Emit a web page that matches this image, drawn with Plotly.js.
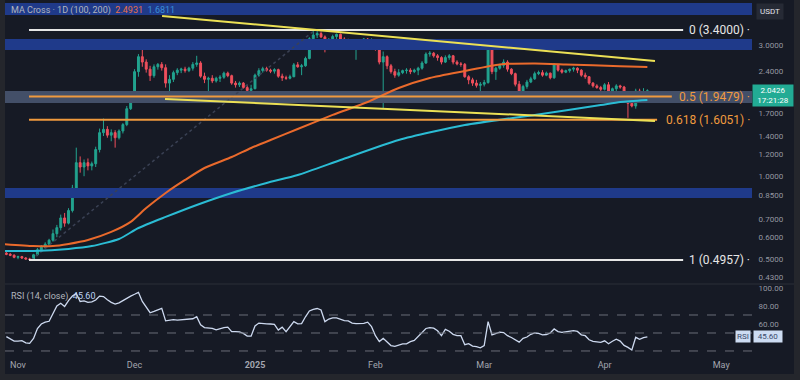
<!DOCTYPE html>
<html><head><meta charset="utf-8">
<script src="https://cdn.plot.ly/plotly-3.0.1.min.js"></script>
<style>html,body{margin:0;padding:0;background:#161a25;}#chart{width:800px;height:380px;}</style>
</head><body><div id="chart"></div>
<script>
// ---------- DATA ----------
const firstDay = '2024-10-29';
const opens = [
  .525,.520,.516,
  .507,.510,.504,.500,.498,.518,.540,.552,.566,.585,.618,.650,.705,.675,.750,.905,1.12,1.08,1.12,1.09,1.11,1.25,1.44,1.48,1.41,1.44,1.38,1.46,1.54,1.76,
  1.96,2.40,2.72,2.60,2.45,2.32,2.50,2.55,2.48,2.18,2.25,2.38,2.43,2.45,2.42,2.47,2.55,2.58,2.31,2.25,2.27,2.22,2.27,2.29,2.37,2.32,2.18,2.15,2.18,2.10,2.05,
  2.08,2.33,2.42,2.46,2.43,2.41,2.44,2.31,2.28,2.27,2.30,2.54,2.50,2.52,2.68,3.16,3.26,3.30,3.21,2.98,3.12,3.22,3.28,3.15,3.12,3.10,3.03,3.08,3.12,3.15,3.09,
  3.13,2.90,2.60,2.72,2.52,2.40,2.33,2.38,2.42,2.43,2.40,2.43,2.47,2.58,2.78,2.80,2.74,2.70,2.60,2.70,2.74,2.60,2.56,2.55,2.30,2.24,2.18,2.14,
  2.16,2.19,2.92,2.40,2.47,2.53,2.60,2.45,2.36,2.16,2.02,2.12,2.20,2.26,2.36,2.38,2.33,2.37,2.28,2.54,2.43,2.39,2.42,2.45,2.47,2.43,2.33,2.30,2.18,2.13,2.10,
  2.07,2.15,2.04,2.08,2.13,2.11,1.93,1.84,1.80,2.04,2.00,2.03];
const highs = [
  .530,.526,.520,
  .514,.513,.508,.505,.522,.548,.562,.575,.592,.640,.665,.725,.735,.765,.930,1.27,1.18,1.15,1.16,1.13,1.28,1.49,1.62,1.52,1.48,1.47,1.48,1.56,1.80,2.00,
  2.45,2.78,2.92,2.66,2.52,2.55,2.58,2.60,2.55,2.33,2.42,2.47,2.48,2.50,2.50,2.60,2.74,2.62,2.38,2.30,2.33,2.30,2.33,2.40,2.40,2.34,2.22,2.21,2.20,2.14,2.15,
  2.36,2.47,2.50,2.50,2.46,2.47,2.46,2.36,2.32,2.34,2.58,2.60,2.56,2.72,3.20,3.40,3.40,3.36,3.25,3.18,3.27,3.30,3.30,3.20,3.16,3.14,3.10,3.15,3.18,3.18,3.17,
  3.15,2.93,2.84,2.75,2.56,2.46,2.45,2.44,2.47,2.47,2.46,2.50,2.62,2.82,2.85,2.83,2.78,2.73,2.75,2.78,2.76,2.64,2.60,2.58,2.33,2.28,2.24,2.20,
  2.24,2.98,2.97,2.50,2.56,2.66,2.64,2.47,2.38,2.22,2.15,2.24,2.30,2.40,2.42,2.43,2.40,2.38,2.58,2.56,2.46,2.44,2.46,2.50,2.49,2.45,2.38,2.31,2.20,2.16,2.13,
  2.18,2.20,2.10,2.16,2.15,2.13,1.96,1.95,2.08,2.08,2.09,2.07];
const lows = [
  .516,.512,.503,
  .499,.500,.497,.4957,.497,.512,.532,.545,.560,.578,.600,.635,.655,.668,.738,.890,1.03,1.00,1.05,1.05,1.08,1.22,1.40,1.38,1.34,1.27,1.36,1.43,1.52,1.74,
  1.94,2.30,2.50,2.38,2.22,2.28,2.44,2.42,2.10,2.01,2.20,2.33,2.37,2.38,2.39,2.42,2.50,2.28,2.18,1.98,2.18,2.19,2.20,2.26,2.29,2.15,2.10,2.11,2.08,2.01,2.03,
  2.07,2.30,2.38,2.40,2.37,2.36,2.28,2.22,2.24,2.25,2.29,2.48,2.33,2.50,2.66,3.10,3.18,3.18,2.82,2.95,3.08,3.15,3.08,3.07,3.06,3.00,2.65,3.02,3.06,3.05,3.04,
  2.86,2.55,1.77,2.45,2.36,2.28,2.30,2.35,2.36,2.35,2.37,2.33,2.44,2.56,2.72,2.70,2.63,2.55,2.58,2.65,2.55,2.53,2.50,2.28,2.16,2.13,2.10,1.98,
  2.12,2.17,2.35,2.24,2.44,2.48,2.40,2.33,2.12,1.98,1.98,2.08,2.18,2.24,2.33,2.30,2.31,2.25,2.26,2.40,2.36,2.37,2.38,2.40,2.37,2.30,2.26,2.15,2.10,2.08,2.04,
  2.05,2.00,2.00,2.04,2.08,1.90,1.63,1.78,1.76,1.95,1.98,2.01];
const closes = [
  .520,.516,.507,
  .510,.504,.500,.498,.518,.540,.552,.566,.585,.618,.650,.705,.675,.750,.905,1.12,1.08,1.12,1.09,1.11,1.25,1.44,1.48,1.41,1.44,1.38,1.46,1.54,1.76,1.96,
  2.40,2.72,2.60,2.45,2.32,2.50,2.55,2.48,2.18,2.25,2.38,2.43,2.45,2.42,2.47,2.55,2.58,2.31,2.25,2.27,2.22,2.27,2.29,2.37,2.32,2.18,2.15,2.18,2.10,2.05,2.08,
  2.33,2.42,2.46,2.43,2.41,2.44,2.31,2.28,2.27,2.30,2.54,2.50,2.52,2.68,3.16,3.26,3.30,3.21,2.98,3.12,3.22,3.28,3.15,3.12,3.10,3.03,3.08,3.12,3.15,3.09,3.13,
  2.90,2.60,2.72,2.52,2.40,2.33,2.38,2.42,2.43,2.40,2.43,2.47,2.58,2.78,2.80,2.74,2.70,2.60,2.70,2.74,2.60,2.56,2.55,2.30,2.24,2.18,2.14,2.16,
  2.19,2.92,2.40,2.47,2.53,2.60,2.45,2.36,2.16,2.02,2.12,2.20,2.26,2.36,2.38,2.33,2.37,2.28,2.54,2.43,2.39,2.42,2.45,2.47,2.43,2.33,2.30,2.18,2.13,2.10,2.07,
  2.15,2.04,2.08,2.13,2.11,1.93,1.84,1.80,2.04,2.00,2.03,2.0426];
const rsiValues = [
  46,43,41,
  41,41.5,39,38.5,44,55,60,62,63,71,80,83,79.5,86,91,94,85,85.6,84,84.5,86.7,91,90.5,87,84,82.2,83.5,86,89,91,
  93,95.2,85,78,72.5,74,76,77.4,63.5,64.5,64.8,64.4,64.8,64.4,65,65.8,68.1,59,56,55.2,55.2,53.5,54.8,56,56.5,51.5,51.5,51.3,49.6,46.5,46.5,
  57.8,61,61,60.2,60,59.6,53.3,56.5,51.5,57,62.6,60.2,60.5,68,74.5,76.3,77.2,75.6,62.6,65.5,66.8,66.8,65.2,63.8,63.4,61,60.5,60.7,60.7,62,57,
  47,40.5,44,39.5,36,35.2,36.5,38,38,40.4,41.8,46,50,55,56,55.4,52.5,47,54,52,48.5,47,47,37,38.2,35.5,34.8,33.5,
  36,62.6,48,49.4,51,50.5,47,45,42.2,39.8,44,45.5,48.5,50,49.5,48,48.3,50,54.5,51.5,50.8,51.5,52.3,52.6,51.7,48,47,42.5,40.6,40.2,39.5,
  41.3,38,40.8,43,41,36.2,34,31.1,45.2,43,44.8,45.6];

// Moving averages
const maFastDates = ['2024-10-28','2024-11-05','2024-11-10','2024-11-14','2024-11-19','2024-11-25','2024-11-30','2024-12-04','2024-12-09','2024-12-14','2024-12-19','2024-12-26','2024-12-31','2025-01-05','2025-01-12','2025-01-21','2025-01-30','2025-02-07','2025-02-15','2025-02-24','2025-03-05','2025-03-14','2025-03-22','2025-04-05','2025-04-12'];
const maFastValues = [0.567,0.557,0.557,0.567,0.586,0.627,0.682,0.766,0.869,0.969,1.071,1.174,1.266,1.354,1.484,1.67,1.862,2.093,2.276,2.413,2.55,2.57,2.55,2.51,2.4931];
const maSlowDates = ['2024-10-28','2024-11-05','2024-11-14','2024-11-20','2024-11-27','2024-12-02','2024-12-09','2024-12-17','2024-12-26','2025-01-04','2025-01-12','2025-01-23','2025-02-07','2025-02-24','2025-03-14','2025-03-31','2025-04-05','2025-04-12'];
const maSlowValues = [0.535,0.535,0.544,0.557,0.591,0.648,0.711,0.786,0.869,0.945,1.010,1.145,1.354,1.535,1.67,1.815,1.862,1.893];
const maLegend = ['2.4931','1.6811'];

// Fibonacci retracement
const fibRatios = ['0','0.5','0.618','1'];
const fibPrices = [3.4, 1.9479, 1.6051, 0.4957];
const fibStart = '2024-11-03 20:00';
const fibEnds = ['2025-04-21 05:00','2025-04-18 07:00','2025-04-14 12:00','2025-04-21 05:00'];
const fibColors = ['#e6e6e6','#f09a3e','#f09a3e','#e6e6e6'];
const fibTrend = {dates:['2024-11-04 08:00','2025-01-16 10:00'], prices:[0.4957, 3.40]};

// Trendlines
const upperTrend = {dates:['2024-12-08 02:00','2025-04-13 23:00'], prices:[3.825, 2.624]};
const lowerTrend = {dates:['2024-12-08 20:00','2025-04-13 23:00'], prices:[1.909, 1.588]};

// Zones (price ranges)
const blueZones = [[3.86, 4.26],[2.877, 3.155],[0.833, 0.906]];
const grayZone = [1.846, 2.04];

// Axes
const xRange = ['2024-10-28 15:40','2025-05-08 22:20'];
const monthTicks = ['2024-11-01','2024-12-01','2025-01-01','2025-02-01','2025-03-01','2025-04-01','2025-05-01'];
const monthLabels = ['Nov','Dec','<b>2025</b>','Feb','Mar','Apr','May'];
const priceTicks = [3.0, 2.4, 1.7, 1.4, 1.2, 1.0, 0.85, 0.7, 0.6, 0.5, 0.43];
const rsiTicks = [100, 80, 60];
const rsiLevels = [70, 50, 30];
const lastTime = '17:21:28';

// ---------- BUILD ----------
const dates = opens.map((_, i) => {
  const d = new Date(Date.parse(firstDay + 'T00:00:00Z') + i * 86400000);
  return d.toISOString().slice(0, 10);
});
const lastClose = closes[closes.length - 1];
const lastRsi = rsiValues[rsiValues.length - 1];

const traces = [];
blueZones.forEach(z => traces.push({
  type:'scatter', mode:'lines', x:[xRange[0],xRange[1],xRange[1],xRange[0],xRange[0]],
  y:[z[0],z[0],z[1],z[1],z[0]], fill:'toself', fillcolor:'#1f3a8a', line:{width:0},
  hoverinfo:'skip', xaxis:'x', yaxis:'y'
}));
traces.push({
  type:'scatter', mode:'lines', x:[xRange[0],xRange[1],xRange[1],xRange[0],xRange[0]],
  y:[grayZone[0],grayZone[0],grayZone[1],grayZone[1],grayZone[0]], fill:'toself', fillcolor:'#434f68', line:{width:0},
  hoverinfo:'skip', xaxis:'x', yaxis:'y'
});
traces.push({type:'scatter', mode:'lines', x:fibTrend.dates, y:fibTrend.prices,
  line:{color:'#3a4154', width:1.5, dash:'dot'}, xaxis:'x', yaxis:'y'});
traces.push({
  type:'candlestick', x:dates, open:opens, high:highs, low:lows, close:closes,
  increasing:{line:{color:'#22a38f', width:1}, fillcolor:'#22a38f'},
  decreasing:{line:{color:'#ef4f5c', width:1}, fillcolor:'#ef4f5c'},
  whiskerwidth:0, xaxis:'x', yaxis:'y'
});
traces.push({type:'scatter', mode:'lines', x:maFastDates, y:maFastValues,
  line:{color:'#ea6a2c', width:2, shape:'spline', smoothing:0.6}, xaxis:'x', yaxis:'y'});
traces.push({type:'scatter', mode:'lines', x:maSlowDates, y:maSlowValues,
  line:{color:'#2bbcd4', width:2, shape:'spline', smoothing:0.6}, xaxis:'x', yaxis:'y'});
fibPrices.forEach((p, i) => traces.push({type:'scatter', mode:'lines', x:[fibStart, fibEnds[i]], y:[p, p],
  line:{color:fibColors[i], width:2}, xaxis:'x', yaxis:'y'}));
[upperTrend, lowerTrend].forEach(t => traces.push({type:'scatter', mode:'lines', x:t.dates, y:t.prices,
  line:{color:'#ece055', width:2}, xaxis:'x', yaxis:'y'}));
traces.push({type:'scatter', mode:'lines', x:dates, y:rsiValues,
  line:{color:'#cdd9ef', width:1.3}, xaxis:'x', yaxis:'y2'});

const H = 358;
const pY = px => 1 - px / H;
const pX = px => (px - 5) / 747;

const shapes = [];
rsiLevels.forEach(v => shapes.push({type:'line', xref:'paper', yref:'y2', x0:0, x1:1, y0:v, y1:v,
  line:{color:'#6a6d78', width:1, dash:'dash'}}));
shapes.push({type:'line', xref:'paper', yref:'paper', x0:0, x1:pX(794), y0:pY(284), y1:pY(284), line:{color:'#2a2e39', width:1}});
shapes.push({type:'rect', xref:'paper', yref:'paper', x0:pX(0), x1:pX(5), y0:pY(380), y1:pY(0), fillcolor:'#24262c', line:{width:0}});
shapes.push({type:'rect', xref:'paper', yref:'paper', x0:pX(794), x1:pX(800), y0:pY(380), y1:pY(0), fillcolor:'#24262c', line:{width:0}});
shapes.push({type:'rect', xref:'paper', yref:'paper', x0:pX(0), x1:pX(800), y0:pY(380), y1:pY(374), fillcolor:'#24262c', line:{width:0}});

const font = 'Roboto, "Liberation Sans", sans-serif';
const annotations = [];
annotations.push({xref:'paper', yref:'paper', x:pX(9), y:pY(10), xanchor:'left', yanchor:'middle', showarrow:false,
  text:'MA Cross · 1D (100, 200)\u00a0 <span style="color:#e8704a">' + maLegend[0] + '</span>\u00a0 <span style="color:#3a8fd9">' + maLegend[1] + '</span>',
  font:{family:font, size:9, color:'#b2b5be'}});
annotations.push({xref:'paper', yref:'paper', x:pX(9), y:pY(296), xanchor:'left', yanchor:'middle', showarrow:false,
  text:'RSI (14, close)\u00a0 <span style="color:#bcd3f2">' + lastRsi.toFixed(2) + '</span>',
  font:{family:font, size:9, color:'#b2b5be'}});
annotations.push({xref:'paper', yref:'paper', x:pX(756), y:pY(12), xanchor:'left', yanchor:'middle', showarrow:false,
  text:'USDT', bgcolor:'#262a35', borderpad:3, font:{family:font, size:8, color:'#e0e3eb'}});
annotations.push({xref:'paper', yref:'y', x:1, y:Math.log10(lastClose), xanchor:'left', yanchor:'middle', yshift:-5, showarrow:false,
  text:lastClose.toFixed(4) + '<br>' + lastTime, bgcolor:'#22ab94', borderpad:1, width:38,
  font:{family:font, size:8, color:'#ffffff'}});
annotations.push({xref:'paper', yref:'y2', x:1, xshift:-1, y:lastRsi, xanchor:'right', yanchor:'middle', showarrow:false,
  text:'RSI', bgcolor:'#cddcf2', borderpad:1, font:{family:font, size:8, color:'#3a4a6b'}});
annotations.push({xref:'paper', yref:'y2', x:1, xshift:1, y:lastRsi, xanchor:'left', yanchor:'middle', showarrow:false,
  text:lastRsi.toFixed(2), bgcolor:'#cddcf2', borderpad:1, width:26, font:{family:font, size:8, color:'#3a4a6b'}});
fibPrices.forEach((p, i) => annotations.push({xref:'paper', yref:'y', x:1, y:Math.log10(p), xanchor:'right', yanchor:'middle', showarrow:false,
  text:fibRatios[i] + ' (' + p.toFixed(4) + ') ·', font:{family:font, size:12, color:fibColors[i]}}));

const layout = {
  width:800, height:380, margin:{l:5, r:48, t:0, b:22},
  paper_bgcolor:'#161a25', plot_bgcolor:'#161a25', showlegend:false,
  xaxis:{type:'date', range:xRange, anchor:'y2', domain:[0,1], showgrid:false, zeroline:false, showline:false,
    rangeslider:{visible:false}, tickmode:'array', tickvals:monthTicks, ticktext:monthLabels, ticks:'',
    tickfont:{family:font, size:9, color:'#a3a6af'}},
  yaxis:{type:'log', domain:[pY(283),1], range:[-0.3884, 0.6407], side:'right', anchor:'x', showgrid:false, zeroline:false,
    tickmode:'array', tickvals:priceTicks, ticktext:priceTicks.map(v => v.toFixed(4)), ticks:'outside', ticklen:4, tickcolor:'rgba(0,0,0,0)',
    tickfont:{family:font, size:8, color:'#9598a1'}},
  yaxis2:{domain:[0, pY(285)], range:[22.2, 103.33], side:'right', anchor:'x', showgrid:false, zeroline:false,
    tickmode:'array', tickvals:rsiTicks, ticktext:rsiTicks.map(v => v.toFixed(2)), ticks:'outside', ticklen:4, tickcolor:'rgba(0,0,0,0)',
    tickfont:{family:font, size:8, color:'#9598a1'}},
  shapes:shapes, annotations:annotations
};
Plotly.newPlot('chart', traces, layout, {displayModeBar:false, staticPlot:true});
</script>
</body></html>
